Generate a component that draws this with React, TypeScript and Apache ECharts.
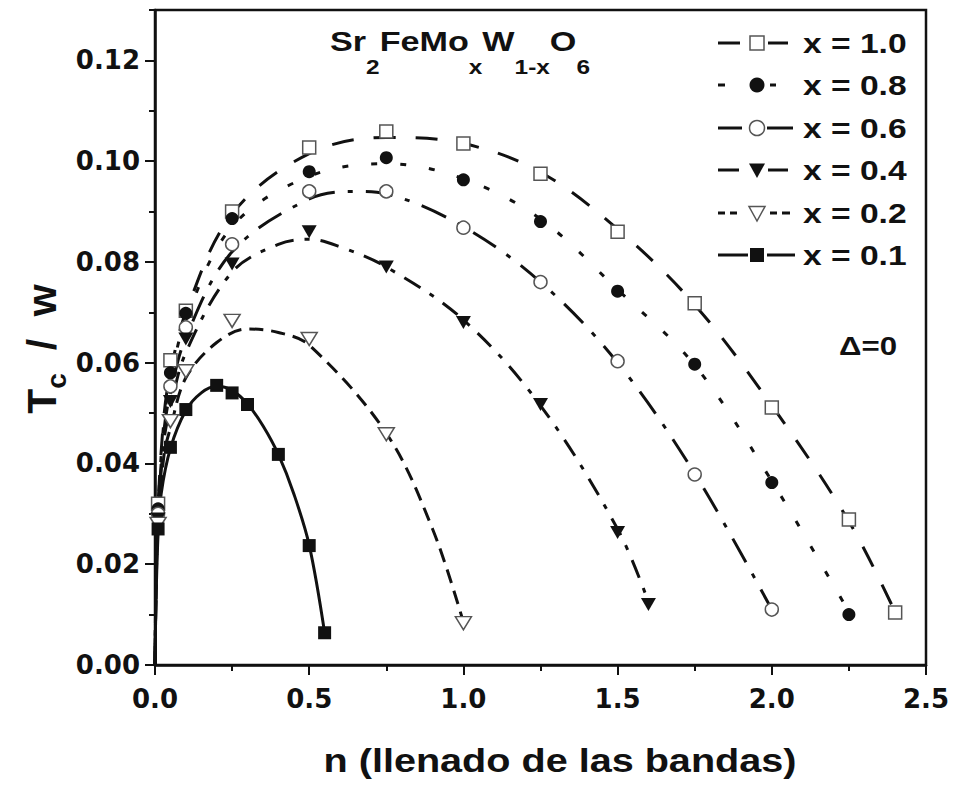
import React, { useEffect, useRef } from 'react';
import * as echarts from 'echarts';

// ---------- data ----------
const xTickValues = [0, 0.5, 1.0, 1.5, 2.0, 2.5];
const yTickValues = [0, 0.02, 0.04, 0.06, 0.08, 0.10, 0.12];
const yMinorTickValues = [0.01, 0.03, 0.05, 0.07, 0.09, 0.11, 0.13];

const seriesNames = ['x = 1.0', 'x = 0.8', 'x = 0.6', 'x = 0.4', 'x = 0.2', 'x = 0.1'];

// calculated points (markers)
const pts10 = [[0.01, 0.032], [0.05, 0.0605], [0.1, 0.0703], [0.25, 0.090], [0.5, 0.1027], [0.75, 0.1059], [1.0, 0.1035], [1.25, 0.0975], [1.5, 0.086], [1.75, 0.0718], [2.0, 0.0511], [2.25, 0.0289], [2.4, 0.0104]];
const pts08 = [[0.01, 0.031], [0.05, 0.058], [0.1, 0.0698], [0.25, 0.0886], [0.5, 0.0979], [0.75, 0.1007], [1.0, 0.0963], [1.25, 0.088], [1.5, 0.0742], [1.75, 0.0597], [2.0, 0.0362], [2.25, 0.010]];
const pts06 = [[0.01, 0.030], [0.05, 0.0553], [0.1, 0.067], [0.25, 0.0835], [0.5, 0.094], [0.75, 0.094], [1.0, 0.0868], [1.25, 0.076], [1.5, 0.0603], [1.75, 0.0378], [2.0, 0.011]];
const pts04 = [[0.01, 0.029], [0.05, 0.0523], [0.1, 0.0647], [0.25, 0.0796], [0.5, 0.086], [0.75, 0.079], [1.0, 0.068], [1.25, 0.0517], [1.5, 0.0263], [1.6, 0.012]];
const pts02 = [[0.01, 0.028], [0.05, 0.0484], [0.1, 0.0583], [0.25, 0.0683], [0.5, 0.0647], [0.75, 0.0458], [1.0, 0.0083]];
const pts01 = [[0.01, 0.027], [0.05, 0.0432], [0.1, 0.0507], [0.2, 0.0555], [0.25, 0.054], [0.3, 0.0517], [0.4, 0.0418], [0.5, 0.0237], [0.55, 0.0064]];

// fitted curves (lines)
const curve10 = [[0, 0], [0.004, 0.02], [0.01, 0.032], [0.03, 0.05], [0.05, 0.058], [0.1, 0.070], [0.25, 0.0895], [0.5, 0.1015], [0.75, 0.1047], [1.0, 0.1035], [1.25, 0.0978], [1.5, 0.0865], [1.75, 0.0715], [2.0, 0.0515], [2.25, 0.0285], [2.4, 0.0105]];
const curve08 = [[0, 0], [0.004, 0.019], [0.01, 0.031], [0.03, 0.049], [0.05, 0.0565], [0.1, 0.0685], [0.25, 0.087], [0.5, 0.097], [0.75, 0.0995], [1.0, 0.0965], [1.25, 0.0885], [1.5, 0.0745], [1.75, 0.0595], [2.0, 0.0365], [2.25, 0.0105]];
const curve06 = [[0, 0], [0.004, 0.018], [0.01, 0.030], [0.03, 0.047], [0.05, 0.054], [0.1, 0.065], [0.25, 0.082], [0.5, 0.0925], [0.65, 0.094], [0.75, 0.0935], [1.0, 0.087], [1.25, 0.076], [1.5, 0.060], [1.75, 0.038], [2.0, 0.011]];
const curve04 = [[0, 0], [0.004, 0.017], [0.01, 0.029], [0.03, 0.045], [0.05, 0.051], [0.1, 0.062], [0.25, 0.078], [0.4, 0.0835], [0.5, 0.0845], [0.6, 0.083], [0.75, 0.079], [1.0, 0.0685], [1.25, 0.0515], [1.5, 0.027], [1.6, 0.0125]];
const curve02 = [[0, 0], [0.004, 0.016], [0.01, 0.028], [0.03, 0.042], [0.05, 0.047], [0.1, 0.057], [0.2, 0.064], [0.3, 0.0667], [0.4, 0.066], [0.5, 0.0635], [0.75, 0.046], [0.9, 0.027], [1.0, 0.0085]];
const curve01 = [[0, 0], [0.003, 0.012], [0.01, 0.026], [0.02, 0.034], [0.05, 0.043], [0.1, 0.0505], [0.15, 0.054], [0.2, 0.0553], [0.25, 0.0545], [0.3, 0.0518], [0.35, 0.0475], [0.4, 0.0418], [0.45, 0.034], [0.5, 0.0238], [0.55, 0.0064]];

const titleParts = [['m', 'Sr'], ['s', '2'], ['m', 'FeMo'], ['s', 'x'], ['m', 'W'], ['s', '1-x'], ['m', 'O'], ['s', '6']];
const yTitleParts = [['m', 'T'], ['s', 'c'], ['m', '  /  w']];
const xAxisTitle = 'n (llenado de las bandas)';
const deltaLabel = 'Δ=0';

// ---------- styles ----------
const INK = '#111';
const OPEN_EDGE = '#555';
const TICK_FONT = '"DejaVu Sans", sans-serif';
const TEXT_FONT = '"Liberation Sans", Arial, sans-serif';

type Def = {
  name: string; points: number[][]; curve: number[][]; dash: number[] | 'solid';
  symbol: string; size: number | number[]; rotate: number; open: boolean;
  legendSegs: number[][]; legendShape: 'rect' | 'circle' | 'tri';
};

const defs: Def[] = [
  { name: seriesNames[0], points: pts10, curve: curve10, dash: [22, 20], symbol: 'rect', size: 13, rotate: 0, open: true, legendSegs: [[718, 740], [768, 788]], legendShape: 'rect' },
  { name: seriesNames[1], points: pts08, curve: curve08, dash: [6, 23], symbol: 'circle', size: 13, rotate: 0, open: false, legendSegs: [[718, 725], [770, 776]], legendShape: 'circle' },
  { name: seriesNames[2], points: pts06, curve: curve06, dash: [27, 13, 5, 13], symbol: 'circle', size: 13, rotate: 0, open: true, legendSegs: [[718, 742], [767, 793]], legendShape: 'circle' },
  { name: seriesNames[3], points: pts04, curve: curve04, dash: [19, 11, 5, 11], symbol: 'triangle', size: [15, 13], rotate: 180, open: false, legendSegs: [[718, 739], [768, 788]], legendShape: 'tri' },
  { name: seriesNames[4], points: pts02, curve: curve02, dash: [14, 8], symbol: 'triangle', size: [16, 13], rotate: 180, open: true, legendSegs: [[718, 725], [730, 737], [770, 777], [782, 790]], legendShape: 'tri' },
  { name: seriesNames[5], points: pts01, curve: curve01, dash: 'solid', symbol: 'rect', size: 13, rotate: 0, open: false, legendSegs: [[718, 748], [767, 795]], legendShape: 'rect' },
];

const legendRowY = [43, 85, 128, 170, 213, 255];
const legendSymX = 757;
const legendTextX = 803;

function legendSymbol(d: Def, cy: number): any {
  const style = d.open
    ? { fill: '#fff', stroke: OPEN_EDGE, lineWidth: 1.5 }
    : { fill: INK, stroke: INK, lineWidth: 0 };
  const cx = legendSymX;
  if (d.legendShape === 'rect') return { type: 'rect', shape: { x: cx - 7, y: cy - 7, width: 14, height: 14 }, style, z: 101 };
  if (d.legendShape === 'circle') return { type: 'circle', shape: { cx, cy, r: 7.5 }, style, z: 101 };
  return { type: 'polygon', shape: { points: [[cx - 8, cy - 6.5], [cx + 8, cy - 6.5], [cx, cy + 8]] }, style, z: 101 };
}

const richText = (parts: string[][]) => parts.map(([k, t]) => `{${k}|${t}}`).join('');

function buildOption(): any {
  const lineSeries = defs.map((d) => ({
    type: 'line',
    name: d.name + ' fit',
    data: d.curve,
    symbol: 'none',
    showSymbol: false,
    smooth: 0.35,
    silent: true,
    clip: true,
    z: 2,
    lineStyle: { color: INK, width: 3, type: d.dash },
  }));
  const scatterSeries = defs.map((d, i) => ({
    type: 'scatter',
    name: d.name,
    data: d.points,
    symbol: d.symbol,
    symbolSize: d.size,
    symbolRotate: d.rotate,
    silent: true,
    z: 3 + i,
    itemStyle: d.open
      ? { color: '#fff', borderColor: OPEN_EDGE, borderWidth: 1.5, opacity: 1 }
      : { color: INK, borderWidth: 0, opacity: 1 },
  }));

  const elements: any[] = [];
  // title with subscripts
  elements.push({
    type: 'text', x: 460, y: 27, scaleX: 1.22, z: 100,
    style: {
      text: richText(titleParts),
      align: 'center', textAlign: 'center', verticalAlign: 'top', textVerticalAlign: 'top',
      rich: {
        m: { fontSize: 28, fontWeight: 'bold', fontFamily: TEXT_FONT, fill: INK, height: 30, lineHeight: 30, verticalAlign: 'top' },
        s: { fontSize: 20, fontWeight: 'bold', fontFamily: TEXT_FONT, fill: INK, height: 80, lineHeight: 80, verticalAlign: 'top' },
      },
    },
  });
  // y axis title
  elements.push({
    type: 'text', x: 27, y: 349, rotation: Math.PI / 2, z: 100,
    style: {
      text: richText(yTitleParts),
      align: 'center', textAlign: 'center', verticalAlign: 'top', textVerticalAlign: 'top',
      rich: {
        m: { fontSize: 41, fontWeight: 'bold', fontFamily: TEXT_FONT, fill: INK, height: 30, lineHeight: 30, verticalAlign: 'top' },
        s: { fontSize: 28, fontWeight: 'bold', fontFamily: TEXT_FONT, fill: INK, height: 58, lineHeight: 58, verticalAlign: 'top' },
      },
    },
  });
  // x axis title
  elements.push({
    type: 'text', x: 560, y: 761, scaleX: 1.2, z: 100,
    style: {
      text: xAxisTitle, fontSize: 33, fontWeight: 'bold', fontFamily: TEXT_FONT, fill: INK,
      align: 'center', textAlign: 'center', verticalAlign: 'middle', textVerticalAlign: 'middle',
    },
  });
  // Δ=0
  elements.push({
    type: 'text', x: 868, y: 346, scaleX: 1.2, z: 100,
    style: {
      text: deltaLabel, fontSize: 26, fontWeight: 'bold', fontFamily: TEXT_FONT, fill: INK,
      align: 'center', textAlign: 'center', verticalAlign: 'middle', textVerticalAlign: 'middle',
    },
  });
  // legend
  defs.forEach((d, i) => {
    const cy = legendRowY[i];
    d.legendSegs.forEach(([a, b]) => {
      elements.push({ type: 'line', shape: { x1: a, y1: cy, x2: b, y2: cy }, style: { stroke: INK, lineWidth: 3 }, z: 100 });
    });
    elements.push(legendSymbol(d, cy));
    elements.push({
      type: 'text', x: legendTextX, y: cy, scaleX: 1.2, z: 100,
      style: {
        text: d.name, fontSize: 28, fontWeight: 'bold', fontFamily: TEXT_FONT, fill: INK,
        align: 'left', textAlign: 'left', verticalAlign: 'middle', textVerticalAlign: 'middle',
      },
    });
  });

  const tickLine = { color: INK, width: 2 };
  return {
    animation: false,
    backgroundColor: '#fff',
    grid: {
      left: 155, right: 30, top: 10, bottom: 129,
      show: true, borderColor: INK, borderWidth: 2.5, backgroundColor: 'transparent',
      containLabel: false, outerBoundsMode: 'none',
    },
    xAxis: {
      type: 'value', min: 0, max: 2.5, interval: 0.5,
      axisLine: { show: true, onZero: false, lineStyle: { color: INK, width: 2.5 } },
      axisTick: { show: true, inside: false, length: 10, lineStyle: tickLine },
      minorTick: { show: true, splitNumber: 2, length: 6, lineStyle: tickLine },
      splitLine: { show: false }, minorSplitLine: { show: false },
      axisLabel: {
        customValues: xTickValues,
        formatter: (v: number) => v.toFixed(1),
        fontFamily: TICK_FONT, fontWeight: 'bold', fontSize: 26, color: INK, margin: 21,
      },
    },
    yAxis: [
      {
        type: 'value', min: 0, max: 0.13, interval: 0.01, position: 'left',
        axisLine: { show: true, onZero: false, lineStyle: { color: INK, width: 2.5 } },
        axisTick: { show: true, inside: false, length: 10, customValues: yTickValues, lineStyle: tickLine },
        splitLine: { show: false },
        axisLabel: {
          customValues: yTickValues,
          formatter: (v: number) => v.toFixed(2),
          fontFamily: TICK_FONT, fontWeight: 'bold', fontSize: 26, color: INK, margin: 15,
        },
      },
      {
        type: 'value', min: 0, max: 0.13, interval: 0.01, position: 'left',
        axisLine: { show: false },
        axisTick: { show: true, inside: false, length: 6, customValues: yMinorTickValues, lineStyle: tickLine },
        splitLine: { show: false },
        axisLabel: { show: false },
      },
    ],
    series: [...lineSeries, ...scatterSeries],
    graphic: { elements },
  };
}

export default function App() {
  const ref = useRef<HTMLDivElement>(null);
  useEffect(() => {
    document.body.style.margin = '0';
    const chart = echarts.init(ref.current!, null, { renderer: 'svg' });
    chart.setOption(buildOption());
    return () => chart.dispose();
  }, []);
  return <div ref={ref} style={{ width: 956, height: 794, background: '#fff' }} />;
}
